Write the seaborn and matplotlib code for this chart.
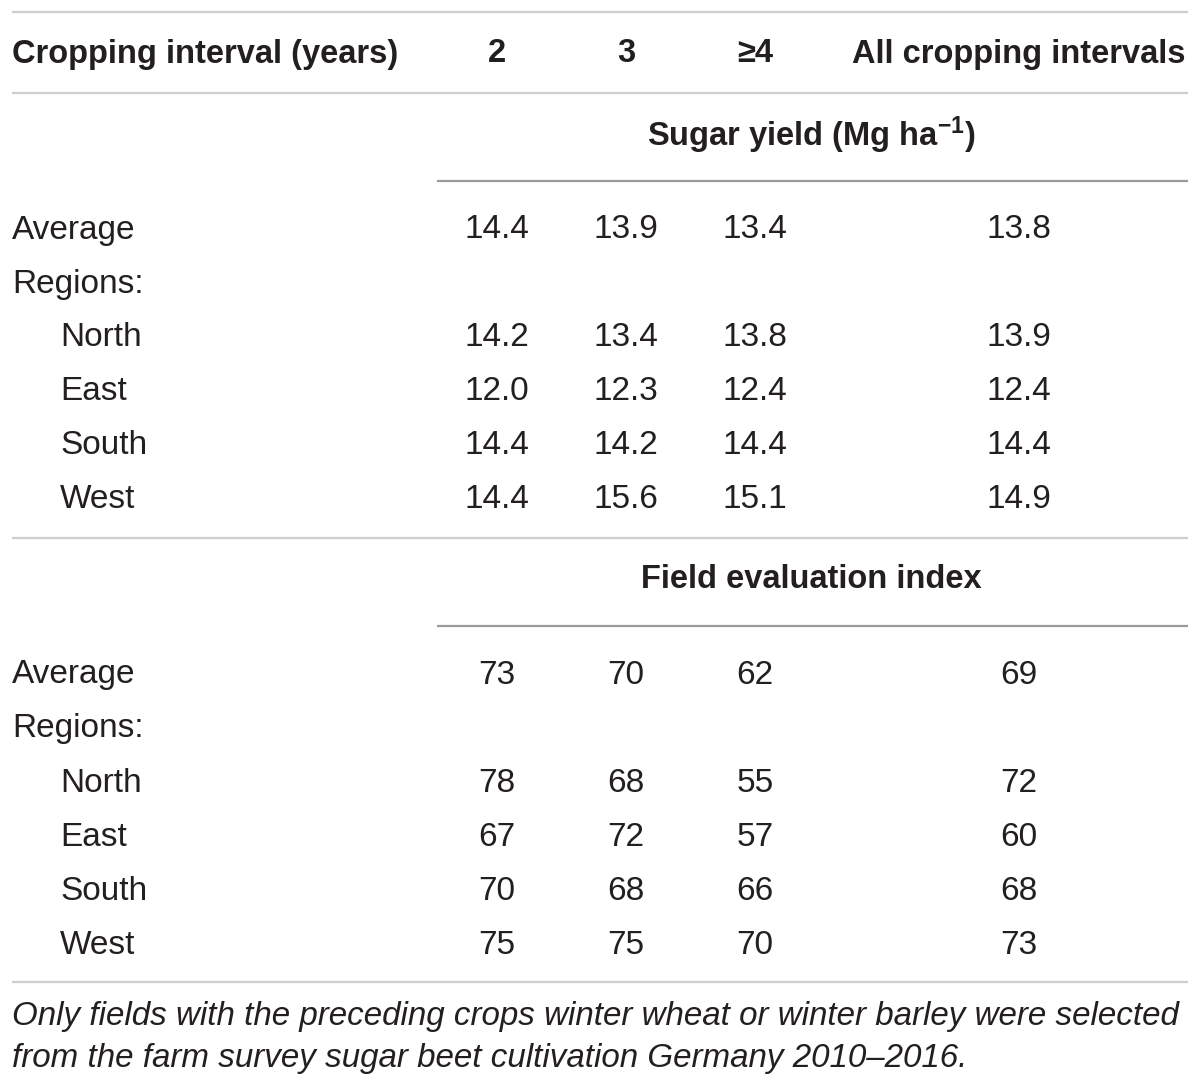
import matplotlib
matplotlib.use("Agg")
import seaborn as sns
from matplotlib import pyplot as plt

# table content
header_label = "Cropping interval (years)"
intervals = ["2", "3", "\u22654", "All cropping intervals"]
regions = ["North", "East", "South", "West"]

sugar_title = "Sugar yield (Mg ha$^{\\mathregular{\u22121}}$)"
sugar_average = [14.4, 13.9, 13.4, 13.8]
sugar_north = [14.2, 13.4, 13.8, 13.9]
sugar_east = [12.0, 12.3, 12.4, 12.4]
sugar_south = [14.4, 14.2, 14.4, 14.4]
sugar_west = [14.4, 15.6, 15.1, 14.9]

index_title = "Field evaluation index"
index_average = [73, 70, 62, 69]
index_north = [78, 68, 55, 72]
index_east = [67, 72, 57, 60]
index_south = [70, 68, 66, 68]
index_west = [75, 75, 70, 73]

footnote = [
    "Only fields with the preceding crops winter wheat or winter barley were selected",
    "from the farm survey sugar beet cultivation Germany 2010\u20132016.",
]

sns.set_theme(style="white")
plt.rcParams["font.family"] = ["Liberation Sans", "DejaVu Sans"]
plt.rcParams["mathtext.fontset"] = "custom"
plt.rcParams["mathtext.rm"] = "Liberation Sans:bold"
plt.rcParams["mathtext.it"] = "Liberation Sans:bold:italic"
plt.rcParams["mathtext.bf"] = "Liberation Sans:bold"

TXT = "#231f20"
LIGHT = "#cfcfcf"
DARK = "#9a9a9a"
FS = 24
FS_BOLD = 23.5
FS_NOTE = 23.9

f = plt.figure(figsize=(12, 10.88), dpi=100)
ax = f.add_axes([0, 0, 1, 1])
ax.set_xlim(0, 1200)
ax.set_ylim(1088, 0)
ax.axis("off")
sns.despine(ax=ax, left=True, bottom=True)

col_x = [497, 626, 755, 1019]
left = 12
right = 1188
indent = 60
dy = 2


def hline(y, x0=left, color=LIGHT):
    ax.plot([x0, right], [y, y], color=color, lw=1.6, solid_capstyle="butt")


hline(12)
ax.text(left, 52 + dy, header_label, fontsize=FS_BOLD, fontweight="bold", color=TXT, va="center")
for x, lab in zip(col_x, intervals):
    ax.text(x, 52 + dy, lab, fontsize=FS_BOLD, fontweight="bold", color=TXT,
            va="center", ha="center")
hline(93)


def section(y0, title, average, rows, fmt):
    ax.text(811, y0 + dy, title, fontsize=FS_BOLD, fontweight="bold", color=TXT,
            va="center", ha="center")
    hline(y0 + 48, x0=437, color=DARK)
    y = y0 + 95
    ax.text(left, y + dy, "Average", fontsize=FS, color=TXT, va="center")
    for x, v in zip(col_x, average):
        ax.text(x, y + dy, fmt.format(v), fontsize=FS, color=TXT, va="center", ha="center")
    y += 54
    ax.text(left, y + dy, "Regions:", fontsize=FS, color=TXT, va="center")
    for name, vals in zip(regions, rows):
        y += 54
        ax.text(indent, y + dy, name, fontsize=FS, color=TXT, va="center")
        for x, v in zip(col_x, vals):
            ax.text(x, y + dy, fmt.format(v), fontsize=FS, color=TXT,
                    va="center", ha="center")


section(133, sugar_title, sugar_average,
        [sugar_north, sugar_east, sugar_south, sugar_west], "{:.1f}")
hline(538)
section(578, index_title, index_average,
        [index_north, index_east, index_south, index_west], "{:d}")
hline(982)

for i, line in enumerate(footnote):
    ax.text(left, 1015 + i * 42 + dy, line, fontsize=FS_NOTE, style="italic",
            color=TXT, va="center")

plt.savefig("out.png", dpi=100)
plt.close(f)
